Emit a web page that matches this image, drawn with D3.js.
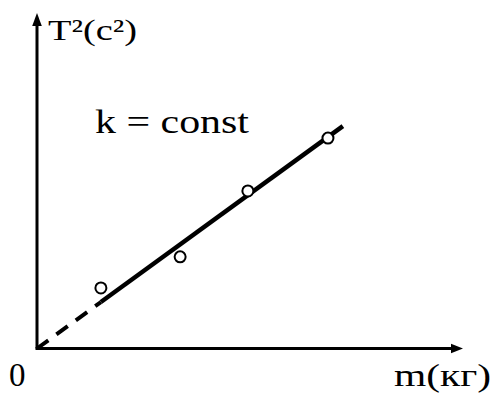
<!DOCTYPE html>
<html>
<head>
<meta charset="utf-8">
<script src="https://cdn.jsdelivr.net/npm/d3@7"></script>
<style>
  html, body { margin: 0; padding: 0; background: #fff; }
  svg { display: block; }
</style>
</head>
<body>
<svg id="chart" width="493" height="394"></svg>
<script>
// Measured points: mass m (relative units) vs squared period T^2
const massValues = [0.150, 0.336, 0.495, 0.683];
const periodSqValues = [0.181, 0.274, 0.471, 0.629];

// Fitted line through the origin: T^2 = slope * m
const fitSlope = 0.926;
const fitSolidRange = [0.150, 0.718];   // solid part
const fitDashedRange = [0, 0.150];      // extrapolated part toward zero

const yAxisLabel = "T²(c²)";
const xAxisLabel = "m(кг)";
const originLabel = "0";
const noteLabel = "k = const";

const serif = "Liberation Serif, DejaVu Serif, Noto Serif, serif";

const svg = d3.select("#chart");

const x = d3.scaleLinear().domain([0, 1]).range([37, 463]);
const y = d3.scaleLinear().domain([0, 1]).range([348.5, 14]);

// Axes with arrow heads
const axes = svg.append("g").attr("stroke", "#000").attr("fill", "none");
axes.append("line")
  .attr("x1", x(0)).attr("y1", y(0))
  .attr("x2", x(0)).attr("y2", y(1) + 8)
  .attr("stroke-width", 3);
axes.append("line")
  .attr("x1", x(0) - 1.5).attr("y1", y(0))
  .attr("x2", x(1) - 8).attr("y2", y(0))
  .attr("stroke-width", 3);

svg.append("path")
  .attr("d", `M${x(0)},${y(1) - 1} L${x(0) - 4.8},${y(1) + 12} L${x(0) + 4.8},${y(1) + 12} Z`)
  .attr("fill", "#000");
svg.append("path")
  .attr("d", `M${x(1)},${y(0)} L${x(1) - 12},${y(0) - 4.8} L${x(1) - 12},${y(0) + 4.8} Z`)
  .attr("fill", "#000");

// Fit line
const fitLine = d3.line()
  .x(d => x(d))
  .y(d => y(d * fitSlope));

svg.append("path")
  .datum(fitDashedRange)
  .attr("d", fitLine)
  .attr("fill", "none")
  .attr("stroke", "#000")
  .attr("stroke-width", 4)
  .attr("stroke-dasharray", "14,10");

svg.append("path")
  .datum(fitSolidRange)
  .attr("d", fitLine)
  .attr("fill", "none")
  .attr("stroke", "#000")
  .attr("stroke-width", 4.5);

// Measurement points
svg.append("g")
  .selectAll("circle")
  .data(massValues.map((m, i) => [m, periodSqValues[i]]))
  .join("circle")
  .attr("cx", d => x(d[0]))
  .attr("cy", d => y(d[1]))
  .attr("r", 5.5)
  .attr("fill", "#fff")
  .attr("stroke", "#000")
  .attr("stroke-width", 2);

// Labels
const label = (txt, px, py, size, len) => {
  const t = svg.append("text")
    .attr("x", px).attr("y", py)
    .attr("font-family", serif)
    .attr("font-size", size)
    .attr("fill", "#000")
    .text(txt);
  if (len) t.attr("textLength", len).attr("lengthAdjust", "spacingAndGlyphs");
  return t;
};

label(yAxisLabel, 48, 40, 30, 89);
label(noteLabel, 95, 132.5, 34, 154);
label(originLabel, 9, 386, 33);
label(xAxisLabel, 394, 386, 32, 97);
</script>
</body>
</html>
